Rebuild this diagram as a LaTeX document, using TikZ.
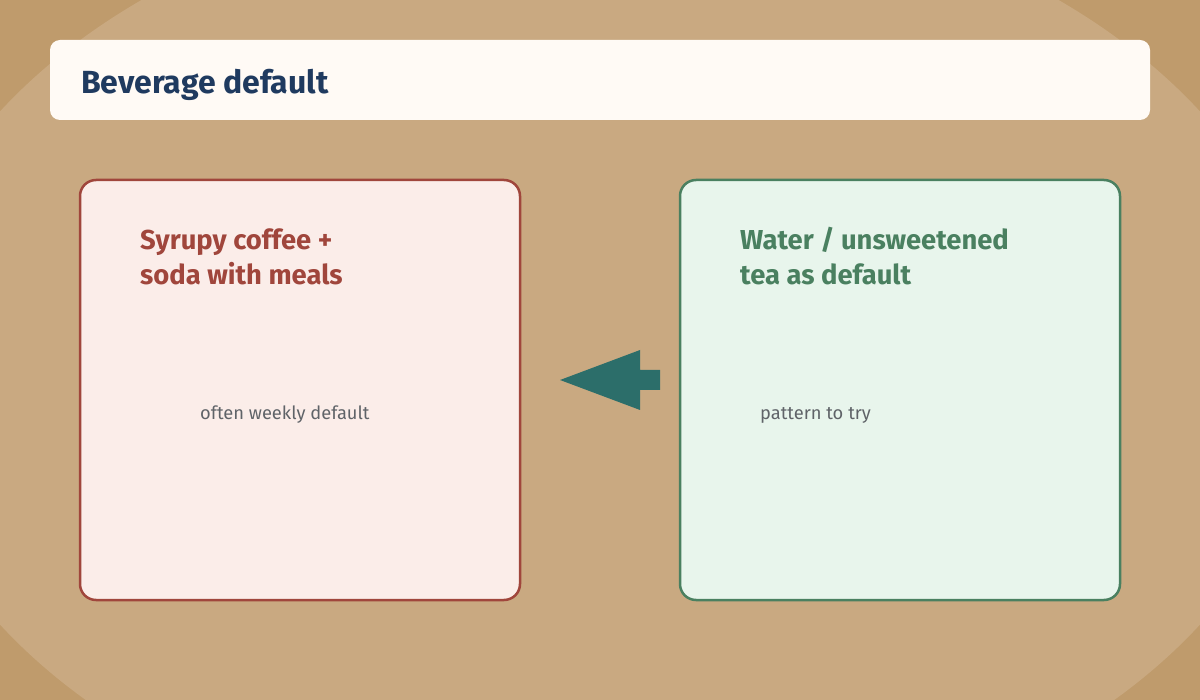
\documentclass[tikz,border=0pt]{standalone}
\usepackage{fontspec}
\setmainfont{Fira Sans}
\usetikzlibrary{positioning}

\definecolor{bgdark}{HTML}{BF9B6C}
\definecolor{bglight}{HTML}{C9A981}
\definecolor{titlefill}{HTML}{FFFAF5}
\definecolor{navy}{HTML}{1F3A5F}
\definecolor{habitred}{HTML}{A0463C}
\definecolor{habitfill}{HTML}{FBEDE9}
\definecolor{trygreen}{HTML}{4A8060}
\definecolor{tryfill}{HTML}{E8F5EC}
\definecolor{arrowteal}{HTML}{2C6E6A}
\definecolor{note}{HTML}{5F6368}

\begin{document}
\begin{tikzpicture} [x = 1pt, y = -1pt,
    card/.style = {rounded corners = 16pt, line width = 2.5pt,
        minimum width = 440pt, minimum height = 420pt, inner sep = 0pt},
    heading/.style = {anchor = base west, inner sep = 0pt, align = left,
        font = \fontsize{27.4}{35}\selectfont\bfseries},
    notetext/.style = {anchor = base west, inner sep = 0pt, text = note,
        font = \fontsize{18.3}{22}\selectfont}]
    \useasboundingbox (0,0) rectangle (1200,700);
    \begin{scope}
        \clip (0,0) rectangle (1200,700);
        \fill [bgdark] (0,0) rectangle (1200,700);
        \fill [bglight] (600,368) ellipse [x radius = 708, y radius = 483];
    \end{scope}

    \node (banner) [fill = titlefill, rounded corners = 10pt, minimum width = 1100pt,
        minimum height = 80pt, inner sep = 0pt] at (600,80) {};
    \node (title) [anchor = base west, inner sep = 0pt, text = navy,
        font = \fontsize{32}{36}\selectfont\bfseries] at (81,94) {Beverage default};

    \node (habit) [card, draw = habitred, fill = habitfill] at (300,390) {};
    \node (try) [card, draw = trygreen, fill = tryfill] at (900,390) {};

    \node (habittitle) [heading, text = habitred] at (140,285)
        {Syrupy coffee +\\soda with meals};
    \node (trytitle) [heading, text = trygreen] at (740,285)
        {Water / unsweetened\\tea as default};

    \node (habitnote) [notetext] at (200,420) {often weekly default};
    \node (trynote) [notetext] at (760,420) {pattern to try};

    % block arrow from the new pattern back to the old one
    \fill [arrowteal] (660,370) -- (640,370) -- (640,350) -- (560,380)
        -- (640,410) -- (640,390) -- (660,390) -- cycle;
\end{tikzpicture}
\end{document}
